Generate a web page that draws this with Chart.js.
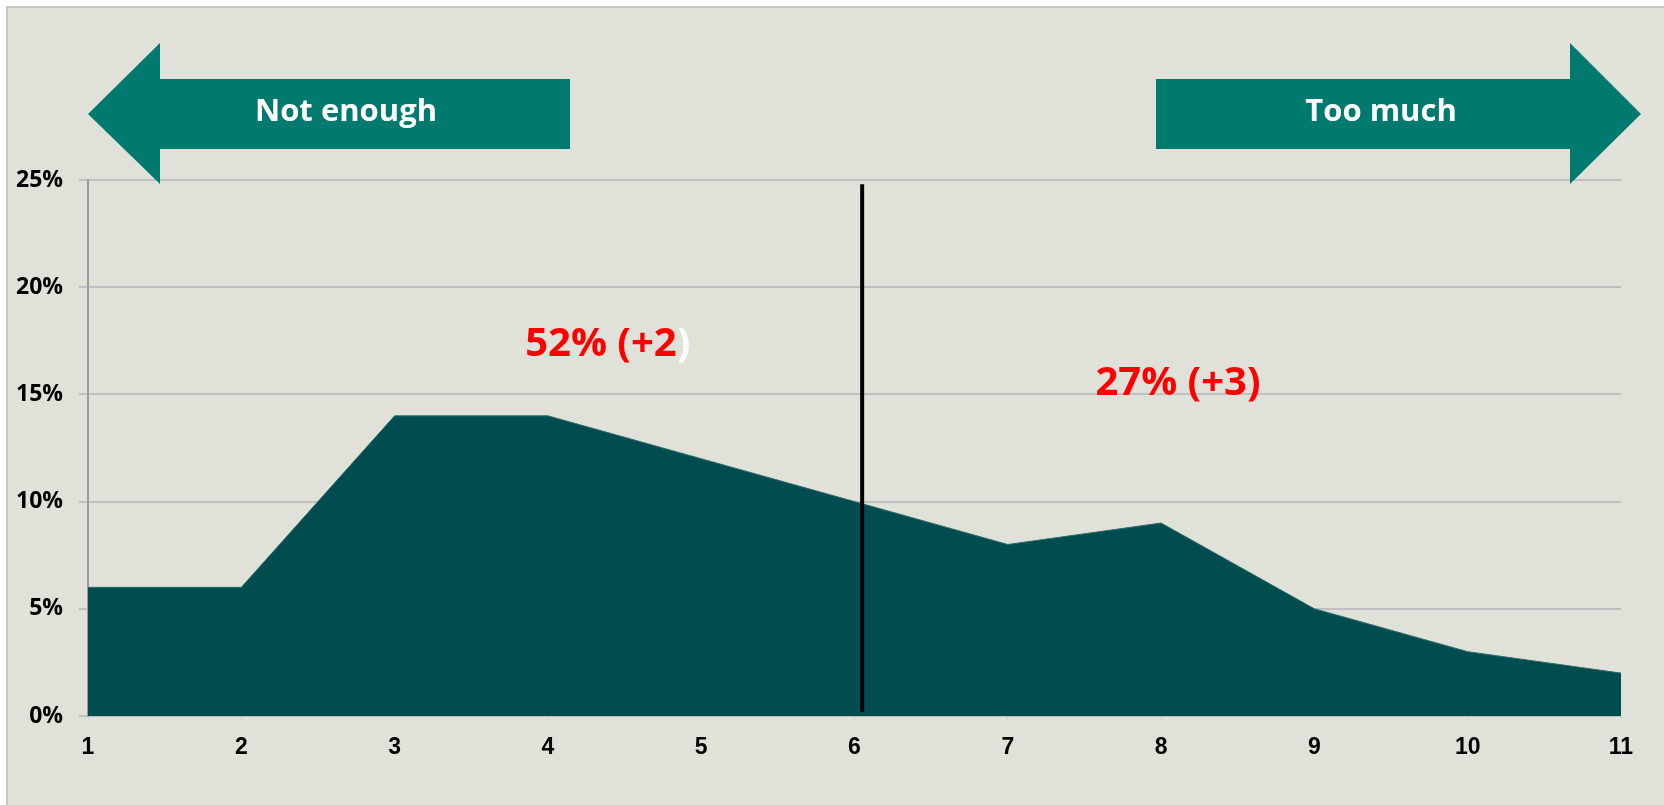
<!DOCTYPE html>
<html>
<head>
<meta charset="utf-8">
<script src="https://cdn.jsdelivr.net/npm/chart.js@4/dist/chart.umd.min.js"></script>
<style>
  html, body { margin: 0; padding: 0; background: #ffffff; }
  #wrap { width: 1664px; height: 805px; position: relative; }
</style>
</head>
<body>
<div id="wrap"><canvas id="chart"></canvas></div>
<script>
// ── Data ──────────────────────────────────────────────────────────────────────
const categories = ['1', '2', '3', '4', '5', '6', '7', '8', '9', '10', '11'];
const shares     = [6, 6, 14, 14, 12, 10, 8, 9, 5, 3, 2];   // % of respondents
const yTicks     = [0, 5, 10, 15, 20, 25];

// marker + callouts, expressed in data units (category index, %)
const dividerAt = 5.05;
const callouts = [
    { parts: [['52% (+2', '#FF0000'], [')', '#FFFFFF']], x: 3.39, y: 17.3 },
    { parts: [['27% (+3)', '#FF0000']],                  x: 7.11, y: 15.5 },
];

const BG      = '#E0E1D9';
const TEAL    = '#007A6E';
const AREA    = '#004C4F';
const GRID    = '#BFBFBF';

// ── Background + frame ────────────────────────────────────────────────────────
const backdrop = {
    id: 'backdrop',
    beforeDraw(chart) {
        const { ctx, width, height } = chart;
        ctx.save();
        ctx.fillStyle = '#FFFFFF';
        ctx.fillRect(0, 0, width, height);
        ctx.fillStyle = BG;
        ctx.fillRect(7, 7, width - 7, height - 7);
        ctx.strokeStyle = '#C4C4C4';
        ctx.lineWidth = 2;
        ctx.beginPath();
        ctx.moveTo(7, height);
        ctx.lineTo(7, 7);
        ctx.lineTo(width, 7);
        ctx.stroke();
        ctx.restore();
    },
};

// ── Arrows, divider line, callouts ────────────────────────────────────────────
function drawArrow(ctx, bodyL, bodyR, tip, dir, label, textShift) {
    const top = 79, bot = 149, headTop = 43, headBot = 184, mid = 114;
    ctx.fillStyle = TEAL;
    ctx.beginPath();
    if (dir < 0) {
        ctx.moveTo(tip, mid);
        ctx.lineTo(bodyL, headTop);
        ctx.lineTo(bodyL, top);
        ctx.lineTo(bodyR, top);
        ctx.lineTo(bodyR, bot);
        ctx.lineTo(bodyL, bot);
        ctx.lineTo(bodyL, headBot);
    } else {
        ctx.moveTo(tip, mid);
        ctx.lineTo(bodyR, headTop);
        ctx.lineTo(bodyR, top);
        ctx.lineTo(bodyL, top);
        ctx.lineTo(bodyL, bot);
        ctx.lineTo(bodyR, bot);
        ctx.lineTo(bodyR, headBot);
    }
    ctx.closePath();
    ctx.fill();

    ctx.fillStyle = '#FFFFFF';
    ctx.font = "bold 31px 'Open Sans', sans-serif";
    ctx.textAlign = 'center';
    ctx.textBaseline = 'middle';
    ctx.fillText(label, (bodyL + bodyR) / 2 + textShift, mid - 2);
}

const overlay = {
    id: 'overlay',
    afterDatasetsDraw(chart) {
        const { ctx, scales: { x, y } } = chart;
        ctx.save();

        // vertical divider
        const dx = x.getPixelForValue(dividerAt);
        ctx.strokeStyle = '#000000';
        ctx.lineWidth = 4;
        ctx.beginPath();
        ctx.moveTo(dx, y.getPixelForValue(24.8));
        ctx.lineTo(dx, y.getPixelForValue(0.2));
        ctx.stroke();

        // callouts
        ctx.font = "bold 40px 'Open Sans', sans-serif";
        ctx.textBaseline = 'middle';
        ctx.textAlign = 'left';
        callouts.forEach((c) => {
            const full = c.parts.map((p) => p[0]).join('');
            let px = x.getPixelForValue(c.x) - ctx.measureText(full).width / 2;
            const py = y.getPixelForValue(c.y);
            c.parts.forEach(([txt, col]) => {
                ctx.fillStyle = col;
                ctx.fillText(txt, px, py);
                px += ctx.measureText(txt).width;
            });
        });

        // direction arrows
        drawArrow(ctx, 160, 570, 88, -1, 'Not enough', -19);
        drawArrow(ctx, 1156, 1570, 1641, 1, 'Too much', 18);

        ctx.restore();
    },
};

// ── Chart ─────────────────────────────────────────────────────────────────────
new Chart(document.getElementById('chart'), {
    type: 'line',
    data: {
        labels: categories,
        datasets: [
            {
                data:            shares,
                fill:            'origin',
                backgroundColor: AREA,
                borderColor:     '#2E6B6C',
                borderWidth:     1,
                pointRadius:     0,
                tension:         0,
            },
        ],
    },
    options: {
        responsive:          true,
        maintainAspectRatio: false,
        animation:           false,
        events:              [],
        layout: {
            padding: { left: 0, top: 180, right: 43, bottom: 0 },
        },
        plugins: {
            legend:  { display: false },
            tooltip: { enabled: false },
        },
        scales: {
            x: {
                offset: false,
                grid: {
                    display:   true,
                    drawOnChartArea: false,
                    color:     '#D0D0CC',
                    tickLength: 5,
                },
                border: { display: false },
                ticks: {
                    color:   '#000000',
                    padding: 13,
                    font:    { family: "'Liberation Sans', Arial, sans-serif", size: 23, weight: 'bold' },
                    maxRotation: 0,
                },
                afterFit: (s) => { s.height = 805 - 716; },
            },
            y: {
                min: 0,
                max: 25,
                afterBuildTicks: (s) => { s.ticks = yTicks.map((v) => ({ value: v })); },
                grid: {
                    color:      GRID,
                    lineWidth:  2,
                    tickLength: 9,
                },
                border: { display: true, color: '#9A9A9A', width: 2 },
                ticks: {
                    color:    '#000000',
                    padding:  16,
                    font:     { family: "'Open Sans', sans-serif", size: 23, weight: 'bold' },
                    callback: (v) => v + '%',
                },
                afterFit: (s) => { s.width = 88; },
            },
        },
    },
    plugins: [backdrop, overlay],
});
</script>
</body>
</html>
